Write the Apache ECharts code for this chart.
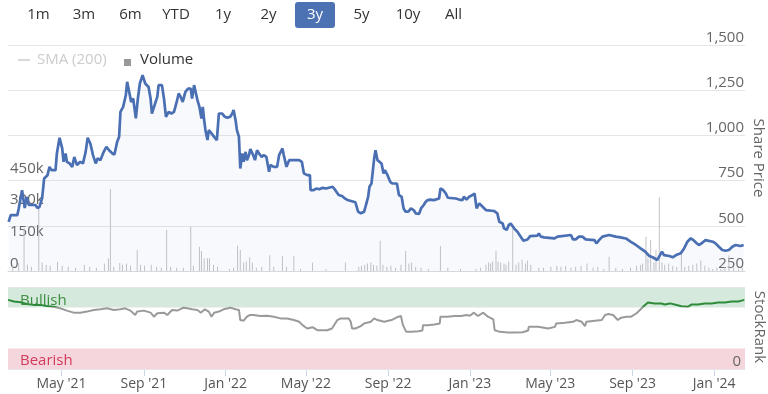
<!DOCTYPE html>
<html><head><meta charset="utf-8">
<script src="https://cdn.jsdelivr.net/npm/echarts@6/dist/echarts.min.js"></script>
<style>html,body{margin:0;padding:0;background:#fff}#c{width:768px;height:394px}</style>
</head><body><div id="c"></div>
<script>
// ---------------- DATA ----------------
const rangeButtons = ['1m','3m','6m','YTD','1y','2y','3y','5y','10y','All'];
const selectedRange = '3y';

const priceDates = [
'2021-02-11','2021-02-14','2021-02-24','2021-02-26','2021-03-03','2021-03-07','2021-03-10','2021-03-13','2021-03-23','2021-03-26',
'2021-03-29','2021-04-02','2021-04-05','2021-04-10','2021-04-13','2021-04-16','2021-04-22','2021-04-24','2021-04-28','2021-05-02',
'2021-05-04','2021-05-07','2021-05-09','2021-05-13','2021-05-17','2021-05-20','2021-05-24','2021-05-29','2021-06-02','2021-06-06',
'2021-06-09','2021-06-13','2021-06-17','2021-06-21','2021-06-24','2021-06-28','2021-07-03','2021-07-07','2021-07-11','2021-07-16',
'2021-07-19','2021-07-23','2021-07-26','2021-07-28','2021-08-01','2021-08-05','2021-08-07','2021-08-10','2021-08-13','2021-08-16',
'2021-08-20','2021-08-23','2021-08-26','2021-08-30','2021-09-01','2021-09-03','2021-09-08','2021-09-11','2021-09-13','2021-09-17',
'2021-09-21','2021-09-23','2021-09-28','2021-10-01','2021-10-04','2021-10-08','2021-10-12','2021-10-16','2021-10-20','2021-10-23',
'2021-10-26','2021-10-29','2021-11-02','2021-11-06','2021-11-10','2021-11-12','2021-11-15','2021-11-17','2021-11-20','2021-11-23',
'2021-11-26','2021-11-28','2021-11-30','2021-12-02','2021-12-05','2021-12-07','2021-12-11','2021-12-15','2021-12-19','2021-12-22',
'2021-12-27','2021-12-31','2022-01-04','2022-01-08','2022-01-11','2022-01-13','2022-01-16','2022-01-18','2022-01-21','2022-01-23',
'2022-01-26','2022-01-28','2022-01-31','2022-02-02','2022-02-05','2022-02-07','2022-02-11','2022-02-14','2022-02-17','2022-02-20',
'2022-02-24','2022-02-27','2022-03-03','2022-03-07','2022-03-09','2022-03-14','2022-03-19','2022-03-22','2022-03-27','2022-03-29',
'2022-04-02','2022-04-06','2022-04-21','2022-04-25','2022-04-28','2022-05-03','2022-05-07','2022-05-08','2022-05-12','2022-05-17',
'2022-05-21','2022-05-26','2022-05-31','2022-06-10','2022-06-14','2022-06-19','2022-06-24','2022-06-28','2022-07-02','2022-07-04',
'2022-07-14','2022-07-18','2022-07-22','2022-07-27','2022-07-29','2022-08-02','2022-08-04','2022-08-07','2022-08-11','2022-08-13',
'2022-08-16','2022-08-18','2022-08-22','2022-08-25','2022-08-27','2022-08-31','2022-09-04','2022-09-07','2022-09-14','2022-09-17',
'2022-09-21','2022-09-24','2022-09-27','2022-10-01','2022-10-05','2022-10-09','2022-10-12','2022-10-17','2022-10-20','2022-10-24',
'2022-10-27','2022-10-30','2022-11-03','2022-11-08','2022-11-16','2022-11-18','2022-11-22','2022-11-26','2022-11-29','2022-12-11',
'2022-12-16','2022-12-21','2022-12-23','2022-12-27','2022-12-31','2023-01-05','2023-01-08','2023-01-11','2023-01-15','2023-01-17',
'2023-01-20','2023-01-25','2023-02-06','2023-02-11','2023-02-14','2023-02-19','2023-02-21','2023-02-25','2023-02-28','2023-03-03',
'2023-03-08','2023-03-13','2023-03-18','2023-03-22','2023-03-28','2023-04-01','2023-04-12','2023-04-14','2023-04-17','2023-04-22',
'2023-05-07','2023-05-09','2023-05-12','2023-05-14','2023-06-01','2023-06-04','2023-06-08','2023-06-13','2023-06-18','2023-06-23',
'2023-07-06','2023-07-09','2023-07-13','2023-07-18','2023-07-28','2023-08-07','2023-08-14','2023-08-22','2023-08-29','2023-09-06',
'2023-09-13','2023-09-20','2023-09-26','2023-10-01','2023-10-08','2023-10-12','2023-10-15','2023-10-18','2023-10-26','2023-10-31',
'2023-11-05','2023-11-12','2023-11-17','2023-11-22','2023-11-27','2023-12-01','2023-12-05','2023-12-09','2023-12-12','2023-12-16',
'2023-12-19','2023-12-30','2024-01-03','2024-01-08','2024-01-13','2024-01-18','2024-01-23','2024-01-28','2024-02-02','2024-02-09',
'2024-02-14'
];
const priceValues = [
522,559,559,596,697,598,660,615,615,598,
605,653,762,780,826,808,808,900,987,928,
854,900,854,845,826,881,836,854,845,909,
987,955,891,845,873,863,909,937,918,900,
894,964,992,1130,1158,1222,1296,1241,1185,1204,
1094,1204,1287,1333,1342,1287,1268,1204,1121,1167,
1213,1278,1278,1204,1103,1130,1121,1130,1185,1232,
1213,1185,1241,1259,1259,1204,1278,1269,1195,1158,
1094,1158,1085,1029,974,1029,1011,992,974,1121,
1121,1103,1097,1103,1121,1140,1084,1029,992,817,
900,854,909,863,891,924,894,863,918,900,
881,891,881,799,836,826,826,891,928,891,
826,863,863,854,790,780,780,697,697,706,
702,710,706,716,697,670,665,652,643,633,
630,578,569,578,605,660,716,734,873,918,
863,854,845,790,808,780,743,734,734,670,
661,596,578,578,596,587,569,565,596,615,
633,642,645,642,651,707,698,679,655,651,
645,642,661,645,661,670,679,596,624,633,
605,587,582,569,522,513,486,477,504,513,
486,467,440,417,424,443,446,458,440,436,
430,424,440,449,449,425,425,440,440,425,
421,403,421,440,449,440,436,430,412,394,
375,357,333,326,311,338,357,338,333,326,
338,348,375,412,431,421,406,394,400,412,
421,412,403,384,366,362,366,384,394,388,
394
];

const volumeDates = [
'2021-02-17','2021-02-26','2021-03-06','2021-03-11','2021-03-17','2021-03-28','2021-04-02','2021-04-08','2021-04-14','2021-04-25',
'2021-05-02','2021-05-11','2021-05-22','2021-06-04','2021-06-12','2021-06-22','2021-07-04','2021-07-10','2021-07-13','2021-07-18',
'2021-07-27','2021-07-31','2021-08-06','2021-08-12','2021-08-22','2021-08-27','2021-09-02','2021-09-12','2021-09-20','2021-09-27',
'2021-10-05','2021-10-11','2021-10-20','2021-10-30','2021-11-10','2021-11-14','2021-11-23','2021-11-26','2021-11-30','2021-12-05',
'2021-12-08','2021-12-14','2021-12-20','2022-01-07','2022-01-13','2022-01-19','2022-01-23','2022-01-28','2022-02-01','2022-02-06',
'2022-02-10','2022-02-16','2022-02-24','2022-03-08','2022-03-14','2022-03-27','2022-04-02','2022-04-13','2022-04-23','2022-05-11',
'2022-05-31','2022-06-29','2022-07-19','2022-07-23','2022-07-28','2022-08-01','2022-08-06','2022-08-10','2022-08-15','2022-08-20',
'2022-08-24','2022-08-30','2022-09-05','2022-09-12','2022-09-20','2022-09-27','2022-10-02','2022-10-06','2022-10-12','2022-10-20',
'2022-10-31','2022-11-18','2022-11-29','2022-12-18','2023-01-10','2023-01-17','2023-01-25','2023-01-29','2023-02-01','2023-02-04',
'2023-02-09','2023-02-12','2023-02-16','2023-02-21','2023-02-24','2023-02-28','2023-03-06','2023-03-11','2023-03-15','2023-03-20',
'2023-03-25','2023-03-28','2023-04-02','2023-04-14','2023-04-21','2023-05-02','2023-05-11','2023-05-17','2023-05-24','2023-06-01',
'2023-06-08','2023-06-16','2023-06-25','2023-07-04','2023-07-11','2023-07-20','2023-07-28','2023-08-07','2023-08-17','2023-08-29',
'2023-09-07','2023-09-13','2023-09-16','2023-09-21','2023-09-24','2023-09-28','2023-10-03','2023-10-06','2023-10-11','2023-10-15',
'2023-10-19','2023-10-25','2023-10-31','2023-11-06','2023-11-13','2023-11-18','2023-11-24','2023-11-30','2023-12-06','2023-12-12',
'2023-12-18','2023-12-24','2023-12-30','2024-01-05','2024-01-11','2024-01-17','2024-01-23','2024-01-30','2024-02-06','2024-02-12'
];
const volumeValues = [
30000,38000,202000,30000,20000,300000,40000,30000,25000,44000,
25000,20000,15000,30000,20000,15000,35000,60000,388000,20000,
38000,30000,35000,25000,99000,30000,25000,30000,20000,15000,
194000,20000,15000,15000,210000,25000,115000,95000,60000,60000,
60000,30000,20000,10000,15000,120000,100000,40000,45000,65000,
40000,15000,20000,75000,20000,70000,20000,70000,10000,40000,
8000,40000,20000,25000,30000,35000,40000,30000,25000,143000,
30000,20000,25000,15000,30000,95000,35000,40000,20000,15000,
10000,118000,15000,10000,10000,15000,30000,40000,35000,45000,
95000,45000,40000,35000,30000,45000,200000,30000,40000,55000,
35000,50000,30000,15000,15000,20000,25000,20000,25000,15000,
20000,25000,35000,15000,20000,10000,68000,15000,10000,15000,
25000,30000,35000,162000,60000,147000,40000,100000,349000,40000,
30000,35000,25000,20000,85000,20000,25000,30000,35000,50000,
25000,15000,10000,15000,10000,20000,75000,15000,10000,15000
];

const rankDates = [
'2021-02-10','2021-02-19','2021-03-01','2021-03-10','2021-03-20','2021-03-30','2021-04-09','2021-04-19','2021-04-29','2021-05-09',
'2021-05-19','2021-05-29','2021-06-08','2021-06-18','2021-06-28','2021-07-08','2021-07-18','2021-07-28','2021-08-04','2021-08-12',
'2021-08-19','2021-08-22','2021-09-01','2021-09-11','2021-09-16','2021-09-21','2021-10-01','2021-10-06','2021-10-13','2021-10-21',
'2021-10-30','2021-11-05','2021-11-12','2021-11-20','2021-11-25','2021-12-01','2021-12-07','2021-12-11','2021-12-15','2021-12-22',
'2021-12-29','2022-01-08','2022-01-16','2022-01-21','2022-01-23','2022-01-28','2022-02-02','2022-02-06','2022-02-12','2022-02-22',
'2022-03-04','2022-03-14','2022-03-24','2022-04-03','2022-04-13','2022-04-21','2022-04-26','2022-05-03','2022-05-11','2022-05-13',
'2022-05-18','2022-05-25','2022-06-02','2022-06-09','2022-06-17','2022-06-22','2022-07-04','2022-07-07','2022-07-09','2022-07-14',
'2022-07-22','2022-07-27','2022-08-06','2022-08-11','2022-08-16','2022-08-26','2022-09-06','2022-09-16','2022-09-20','2022-09-23',
'2022-09-28','2022-10-06','2022-10-16','2022-10-22','2022-10-23','2022-10-30','2022-11-09','2022-11-17','2022-11-18','2022-11-29',
'2022-12-09','2022-12-19','2022-12-27','2023-01-01','2023-01-07','2023-01-13','2023-01-21','2023-01-28','2023-02-05','2023-02-07',
'2023-02-15','2023-02-27','2023-03-12','2023-03-21','2023-03-29','2023-03-30','2023-04-13','2023-04-28','2023-05-08','2023-05-10',
'2023-05-23','2023-06-04','2023-06-09','2023-06-17','2023-06-22','2023-06-24','2023-07-07','2023-07-17','2023-07-22','2023-07-27',
'2023-08-03','2023-08-10','2023-08-15','2023-08-23','2023-08-30','2023-09-07','2023-09-12','2023-09-18','2023-09-24','2023-10-04',
'2023-10-14','2023-10-19','2023-10-27','2023-11-03','2023-11-13','2023-11-23','2023-11-28','2023-12-08','2023-12-18','2023-12-28',
'2024-01-07','2024-01-17','2024-01-27','2024-02-06','2024-02-15'
];
const rankValues = [
84.3,82.3,81.5,79.4,78.2,78.2,76.8,75.8,74.1,71.2,
68.7,68.7,70,72,72.8,74,72,72.8,74,71.2,
65.8,70,71.2,68.7,63.8,68,68.7,65.8,72,71.2,
74.8,74,72.8,72,68.7,72.8,70,63.8,68.7,70,
72.8,74.8,72.8,72,59.7,58.9,63.8,65.8,65.8,64.6,
65,63.8,61.7,61.7,59.7,57.6,53.5,49.4,51,52.3,
47.3,47.3,47.3,49.4,59.7,61.7,61.7,57.6,49.4,49.4,
52.3,55.6,57.6,61.7,59.7,57.6,59.7,63.8,64.6,53.5,
45.3,45.3,46,46.9,53.5,53.5,54.3,55.6,63.8,63.8,
64.6,64.6,65.8,65,68.7,64.6,68.7,63.8,60.5,47.3,
45.3,44.4,44.4,44.8,46.9,51.4,51.4,49.4,51.4,55.6,
56.4,57.6,59.7,57.6,52.3,57.6,58.9,59.7,65.8,67,
65.8,59.7,62.6,63.8,63.8,68,72,76.9,81.1,80,
79.8,78.6,80,78.6,76.6,76,78.6,78.6,80,80,
81.1,81.1,82.3,82.3,84.3
];

const tickDates = ['2021-05-01','2021-09-01','2022-01-01','2022-05-01','2022-09-01','2023-01-01','2023-05-01','2023-09-01','2024-01-01'];
const tickLabels = ["May '21","Sep '21","Jan '22","May '22","Sep '22","Jan '23","May '23","Sep '23","Jan '24"];
const bullishBand = [75, 100];
const bearishBand = [0, 25];
const rankThreshold = 75.5;

// ---------------- CHART ----------------
const FONT = '"Open Sans", "Noto Sans", sans-serif';
const toTime = s => { const p = s.split('-').map(Number); return Date.UTC(p[0], p[1] - 1, p[2]); };
const X_MIN = toTime('2021-02-10'), X_MAX = toTime('2024-02-16');
const tickTimes = tickDates.map(toTime);
const withCommas = v => String(v).replace(/\B(?=(\d{3})+(?!\d))/g, ',');
const tickLabelFor = v => {
  for (let i = 0; i < tickTimes.length; i++) if (Math.abs(tickTimes[i] - v) < 86400000) return tickLabels[i];
  return '';
};

const buttonCenters = [38.5, 84, 130.5, 176, 223, 268.5, 315, 361.5, 408, 453.5];
const graphics = [];
rangeButtons.forEach((t, i) => {
  const sel = t === selectedRange;
  if (sel) graphics.push({ type: 'rect', shape: { x: buttonCenters[i] - 20, y: 2, width: 40, height: 26, r: 3 }, style: { fill: '#4c72b4' } });
  graphics.push({ type: 'text', x: buttonCenters[i], y: 15, style: { text: t, fill: sel ? '#fff' : '#333', fontSize: 15, fontFamily: FONT, align: 'center', verticalAlign: 'middle' } });
});
graphics.push(
  { type: 'line', shape: { x1: 18, y1: 60, x2: 30, y2: 60 }, style: { stroke: '#cccccc', lineWidth: 1.5 } },
  { type: 'text', x: 37, y: 60, style: { text: 'SMA (200)', fill: '#cccccc', fontSize: 15, fontFamily: FONT, verticalAlign: 'middle' } },
  { type: 'rect', shape: { x: 124, y: 59, width: 7, height: 7 }, style: { fill: '#999999' } },
  { type: 'text', x: 140, y: 60, style: { text: 'Volume', fill: '#333333', fontSize: 15, fontFamily: FONT, verticalAlign: 'middle' } },
  { type: 'text', x: 758, y: 158, rotation: -Math.PI / 2, style: { text: 'Share Price', fill: '#666', fontSize: 15, fontFamily: FONT, align: 'center', verticalAlign: 'middle' } },
  { type: 'text', x: 759, y: 327, rotation: -Math.PI / 2, style: { text: 'StockRank', fill: '#666', fontSize: 15, fontFamily: FONT, align: 'center', verticalAlign: 'middle' } }
);

const xBase = { type: 'value', min: X_MIN, max: X_MAX, splitLine: { show: false } };

const chart = echarts.init(document.getElementById('c'));
chart.setOption({
  animation: false,
  textStyle: { fontFamily: FONT },
  graphic: graphics,
  grid: [
    { left: 8, right: 23, top: 45, height: 226 },
    { left: 8, right: 23, top: 176, height: 95 },
    { left: 8, right: 23, top: 287, height: 82 }
  ],
  xAxis: [
    Object.assign({ gridIndex: 0, axisLine: { show: true, onZero: false, lineStyle: { color: '#d8d8d8' } }, axisTick: { show: false }, axisLabel: { show: false } }, xBase),
    Object.assign({ gridIndex: 1, show: false }, xBase),
    Object.assign({ gridIndex: 2, axisLine: { show: false },
      axisTick: { show: true, customValues: tickTimes, length: 7, lineStyle: { color: '#ccd6eb' } },
      axisLabel: { customValues: tickTimes, formatter: tickLabelFor, color: '#555', fontSize: 14, margin: 8, fontFamily: FONT } }, xBase)
  ],
  yAxis: [
    { gridIndex: 0, type: 'value', position: 'right', min: 250, max: 1500, interval: 250,
      axisLine: { show: false }, axisTick: { show: false },
      splitLine: { lineStyle: { color: '#e6e6e6' } },
      axisLabel: { inside: true, margin: 1, verticalAlign: 'bottom', color: '#666', fontSize: 15, fontFamily: FONT, formatter: withCommas } },
    { gridIndex: 1, type: 'value', position: 'left', min: 0, max: 450000, interval: 150000,
      axisLine: { show: false }, axisTick: { show: false }, splitLine: { show: false },
      axisLabel: { inside: true, margin: 2, verticalAlign: 'bottom', color: '#666', fontSize: 15, fontFamily: FONT,
        formatter: v => v === 0 ? '0' : (v / 1000) + 'k' } },
    { gridIndex: 2, type: 'value', position: 'right', min: 0, max: 100, interval: 100, z: 10,
      axisLine: { show: false }, axisTick: { show: false },
      splitLine: { lineStyle: { color: '#e6e6e6' } },
      axisLabel: { inside: true, margin: 4, verticalAlign: 'bottom', color: '#666', fontSize: 15, fontFamily: FONT,
        formatter: v => v === 0 ? '0' : '' } }
  ],
  visualMap: {
    type: 'piecewise', show: false, seriesIndex: 2, dimension: 1,
    pieces: [{ gte: 0, lt: rankThreshold, color: '#9a9a9a' }, { gte: rankThreshold, lte: 100, color: '#2e8b3a' }]
  },
  series: [
    { name: 'Volume', type: 'bar', xAxisIndex: 1, yAxisIndex: 1, barWidth: 1, z: 1,
      itemStyle: { color: '#c4c4c4' },
      data: volumeDates.map((d, i) => [toTime(d), volumeValues[i]]) },
    { name: 'Share Price', type: 'line', xAxisIndex: 0, yAxisIndex: 0, showSymbol: false, z: 3,
      lineStyle: { color: '#4a6fb3', width: 2.7 }, itemStyle: { color: '#4a6fb3' },
      areaStyle: { color: 'rgba(74,111,179,0.06)' },
      data: priceDates.map((d, i) => [toTime(d), priceValues[i]]) },
    { name: 'StockRank', type: 'line', xAxisIndex: 2, yAxisIndex: 2, showSymbol: false, z: 3,
      lineStyle: { width: 2 },
      markArea: { silent: true, data: [
        [{ yAxis: bullishBand[0], itemStyle: { color: '#d5e9dc' },
           label: { show: true, position: 'insideLeft', offset: [7, 3], formatter: 'Bullish', color: '#3e8e41', fontSize: 15, fontFamily: FONT } },
         { yAxis: bullishBand[1] }],
        [{ yAxis: bearishBand[0], itemStyle: { color: '#f4d6dc' },
           label: { show: true, position: 'insideLeft', offset: [7, 2], formatter: 'Bearish', color: '#d23a5c', fontSize: 15, fontFamily: FONT } },
         { yAxis: bearishBand[1] }]
      ] },
      data: rankDates.map((d, i) => [toTime(d), rankValues[i]]) }
  ]
});
</script>
</body></html>
